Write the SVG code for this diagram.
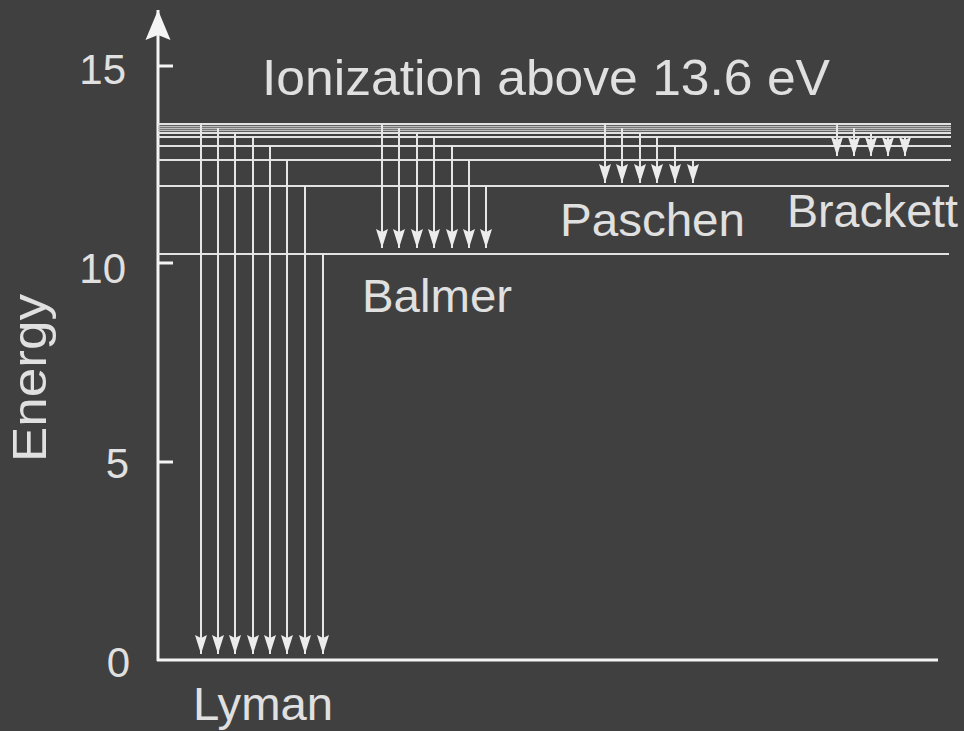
<svg xmlns="http://www.w3.org/2000/svg" width="964" height="731" viewBox="0 0 964 731">
<defs>
<marker id="ah" viewBox="-20 -7 21 14" refX="0" refY="0" markerWidth="21" markerHeight="14" markerUnits="userSpaceOnUse" orient="auto">
<path d="M0,0 L-19,-6 L-16,0 L-19,6 Z" fill="#ececec"/>
</marker>
<marker id="axh" viewBox="-31 -13 32 26" refX="0" refY="0" markerWidth="32" markerHeight="26" markerUnits="userSpaceOnUse" orient="auto">
<path d="M0,0 L-30,-12.5 L-25,0 L-30,12.5 Z" fill="#f4f4f4"/>
</marker>
</defs>
<style>
.lv{stroke:#e2e2e2;stroke-width:2;fill:none}
.lf{stroke:#bdbdbd;stroke-width:1.5;fill:none}
.ar{stroke:#e6e6e6;stroke-width:2;fill:none;marker-end:url(#ah)}
.ax{stroke:#f4f4f4;stroke-width:3;fill:none}
.t{font-family:"Liberation Sans",Arial,sans-serif;fill:#e0e0e0}
.tk{font-family:"Liberation Sans",Arial,sans-serif;fill:#e0e0e0;font-size:42px;text-anchor:end}
</style>
<rect width="964" height="731" fill="#404040"/>
<g id="axes">
<line class="ax" x1="158" y1="661" x2="158" y2="10" marker-end="url(#axh)"/>
<line class="ax" x1="157" y1="660" x2="938" y2="660"/>
<line class="ax" x1="158" y1="66" x2="173" y2="66"/>
<line class="ax" x1="158" y1="263" x2="173" y2="263"/>
<line class="ax" x1="158" y1="462" x2="173" y2="462"/>
<text class="tk" x="126" y="84">15</text>
<text class="tk" x="126" y="283">10</text>
<text class="tk" x="129" y="478">5</text>
<text class="tk" x="130" y="677">0</text>
<text class="t" font-size="48" transform="translate(46,462) rotate(-90)" textLength="168" lengthAdjust="spacingAndGlyphs">Energy</text>
</g>
<g id="levels">
<line class="lv" x1="158" y1="124" x2="951" y2="124"/>
<line class="lf" x1="158" y1="126.5" x2="951" y2="126.5"/>
<line class="lf" x1="158" y1="128.5" x2="951" y2="128.5"/>
<line class="lf" x1="158" y1="130.5" x2="951" y2="130.5"/>
<line class="lv" x1="158" y1="133" x2="951" y2="133"/>
<line class="lv" x1="158" y1="137" x2="951" y2="137"/>
<line class="lv" x1="158" y1="146" x2="951" y2="146"/>
<line class="lv" x1="158" y1="160" x2="951" y2="160"/>
<line class="lv" x1="158" y1="186" x2="949" y2="186"/>
<line class="lv" x1="158" y1="254" x2="949" y2="254"/>
</g>
<g id="connectors">
<line class="ar" x1="201" y1="124" x2="201" y2="654"/>
<line class="ar" x1="218" y1="128" x2="218" y2="654"/>
<line class="ar" x1="235" y1="133" x2="235" y2="654"/>
<line class="ar" x1="253" y1="137" x2="253" y2="654"/>
<line class="ar" x1="270" y1="146" x2="270" y2="654"/>
<line class="ar" x1="287" y1="160" x2="287" y2="654"/>
<line class="ar" x1="305" y1="186" x2="305" y2="654"/>
<line class="ar" x1="323" y1="254" x2="323" y2="654"/>
<line class="ar" x1="382" y1="124" x2="382" y2="248"/>
<line class="ar" x1="399" y1="128" x2="399" y2="248"/>
<line class="ar" x1="417" y1="133" x2="417" y2="248"/>
<line class="ar" x1="434" y1="137" x2="434" y2="248"/>
<line class="ar" x1="452" y1="146" x2="452" y2="248"/>
<line class="ar" x1="469" y1="160" x2="469" y2="248"/>
<line class="ar" x1="486" y1="186" x2="486" y2="248"/>
<line class="ar" x1="605" y1="124" x2="605" y2="183"/>
<line class="ar" x1="622" y1="128" x2="622" y2="183"/>
<line class="ar" x1="640" y1="133" x2="640" y2="183"/>
<line class="ar" x1="657" y1="137" x2="657" y2="183"/>
<line class="ar" x1="675" y1="146" x2="675" y2="183"/>
<line class="ar" x1="693" y1="160" x2="693" y2="183"/>
<line class="ar" x1="837" y1="124" x2="837" y2="156"/>
<line class="ar" x1="854" y1="128" x2="854" y2="156"/>
<line class="ar" x1="871" y1="133" x2="871" y2="156"/>
<line class="ar" x1="888" y1="137" x2="888" y2="156"/>
<line class="ar" x1="905" y1="137" x2="905" y2="156"/>
</g>
<g id="labels">
<text class="t" x="262" y="95" font-size="50" textLength="568" lengthAdjust="spacingAndGlyphs">Ionization above 13.6 eV</text>
<text class="t" x="193" y="720" font-size="47" textLength="140" lengthAdjust="spacingAndGlyphs">Lyman</text>
<text class="t" x="362" y="312" font-size="47" textLength="150" lengthAdjust="spacingAndGlyphs">Balmer</text>
<text class="t" x="560" y="236" font-size="47" textLength="185" lengthAdjust="spacingAndGlyphs">Paschen</text>
<text class="t" x="787" y="227" font-size="46" textLength="171" lengthAdjust="spacingAndGlyphs">Brackett</text>
</g>
</svg>
